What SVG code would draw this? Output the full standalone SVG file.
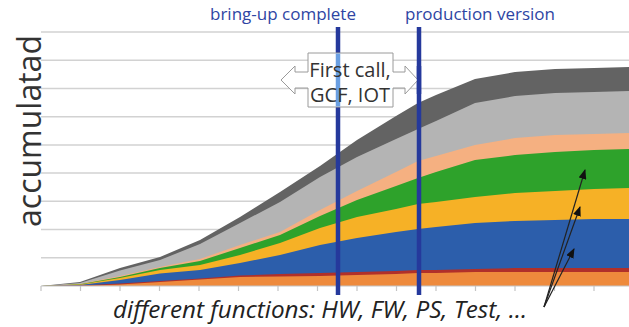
<svg xmlns="http://www.w3.org/2000/svg" width="629" height="327" viewBox="0 0 629 327">
  <style>
    .grid { stroke: #d2d2d2; stroke-width: 1.5; fill: none; }
    .tick { stroke: #c4c4c4; stroke-width: 1.2; fill: none; }
    .milestone { stroke: #25399c; stroke-width: 4.5; }
    .mlabel { font-family: "Open Sans", "Liberation Sans", sans-serif; font-size: 17px; fill: #2e45a3; text-anchor: middle; }
    .callout-text { font-family: "Open Sans", "Liberation Sans", sans-serif; font-size: 20px; fill: #333333; text-anchor: middle; }
    .pointer { stroke: #222222; stroke-width: 1.2; fill: none; marker-end: url(#head); }
  </style>
  <defs>
    <marker id="head" viewBox="0 0 10 8" refX="9" refY="4" markerWidth="10" markerHeight="8" markerUnits="userSpaceOnUse" orient="auto">
      <path d="M0,0 L10,4 L0,8 Z" fill="#111111"/>
    </marker>
  </defs>

  <rect width="629" height="327" fill="#ffffff"/>

  <!-- horizontal gridlines -->
  <g id="gridlines" class="grid">
    <line x1="41" y1="32" x2="629" y2="32"/>
    <line x1="41" y1="60.2" x2="629" y2="60.2"/>
    <line x1="41" y1="88.4" x2="629" y2="88.4"/>
    <line x1="41" y1="116.7" x2="629" y2="116.7"/>
    <line x1="41" y1="144.9" x2="629" y2="144.9"/>
    <line x1="41" y1="173.1" x2="629" y2="173.1"/>
    <line x1="41" y1="201.3" x2="629" y2="201.3"/>
    <line x1="41" y1="229.5" x2="629" y2="229.5"/>
    <line x1="41" y1="257.8" x2="629" y2="257.8"/>
  </g>

  <!-- stacked areas, drawn from the top layer downwards -->
  <g id="stacked-areas">
    <path id="layer-dark-gray" fill="#636363" d="M41,286 L80,282 L120,268 L160,257 L200,240 L240,217 L280,192 L320,166 L357,140 L396,116 L418,103 L436,95 L475,79 L515,72 L555,69 L594,68 L629,67 L629,286 Z"/>
    <path id="layer-light-gray" fill="#b4b4b4" d="M41,286 L80,283 L120,270.5 L160,260 L200,244 L240,223 L280,202 L320,177 L357,157 L396,139 L418,129 L436,121 L475,103 L515,96 L555,93 L594,92 L629,91 L629,286 Z"/>
    <path id="layer-peach" fill="#f5b081" d="M41,286 L80,284 L120,276 L160,267 L200,259 L240,245 L280,232 L320,210 L357,191 L396,172 L418,161 L436,156 L475,145 L515,138 L555,135 L594,134 L629,133 L629,286 Z"/>
    <path id="layer-green" fill="#2ea22b" d="M41,286 L80,284.3 L120,277 L160,268 L200,261 L240,248 L280,235 L320,216 L357,200 L396,186 L418,178 L436,172 L475,160 L515,155 L555,152 L594,150 L629,149 L629,286 Z"/>
    <path id="layer-gold" fill="#f6b126" d="M41,286 L80,284.6 L120,278 L160,270 L200,265 L240,255 L280,243 L320,228 L357,217 L396,209 L418,204 L436,202 L475,197 L515,193 L555,191 L594,189 L629,188 L629,286 Z"/>
    <path id="layer-blue" fill="#2c5eab" d="M41,286 L80,285 L120,280 L160,273.5 L200,270 L240,263 L280,255 L320,245 L357,238 L396,232 L418,229 L436,227 L475,223 L515,221 L555,220 L594,219 L629,219 L629,286 Z"/>
    <path id="layer-red" fill="#b0302a" d="M41,286 L80,285.5 L120,283.5 L160,281 L200,278.5 L240,275.5 L280,274 L320,273 L357,272 L396,271 L418,270 L436,270 L475,269 L515,268 L555,268 L594,268 L629,268 L629,286 Z"/>
    <path id="layer-orange" fill="#ee8a3c" d="M41,286 L80,286 L120,284.5 L160,282 L200,279.5 L240,277 L280,276.5 L320,276 L357,275 L396,274 L418,273 L436,273 L475,272 L515,272 L555,272 L594,272 L629,272 L629,286 Z"/>
  </g>

  <!-- category axis -->
  <g id="axis" class="tick">
    <line x1="41" y1="286" x2="629" y2="286"/>
    <path d="M41,286 v5 M80.5,286 v5 M120,286 v5 M159.5,286 v5 M199,286 v5 M238.5,286 v5 M278,286 v5 M317.5,286 v5 M357,286 v5 M396.5,286 v5 M436,286 v5 M475.5,286 v5 M515,286 v5 M554.5,286 v5 M594,286 v5"/>
  </g>

  <!-- axis title -->
  <text id="y-title" transform="translate(41,131) rotate(-90)" text-anchor="middle" font-family="'Open Sans', 'Liberation Sans', sans-serif" font-size="32" fill="#333333">accumulatad</text>

  <!-- milestones -->
  <g id="milestone-bringup">
    <line class="milestone" x1="338" y1="27" x2="338" y2="295"/>
    <text class="mlabel" x="283" y="20">bring-up complete</text>
  </g>
  <g id="milestone-production">
    <line class="milestone" x1="419" y1="27" x2="419" y2="295"/>
    <text class="mlabel" x="480" y="20">production version</text>
  </g>

  <!-- double-headed callout -->
  <g id="callout">
    <path d="M308,53 H393 V72 H405 V66 L418,80 L405,94 V88 H393 V107 H308 V88 H295 V94 L281,80 L295,66 V72 H308 Z" fill="#ffffff" stroke="#9a9a9a" stroke-width="1"/>
    <line x1="338" y1="53.5" x2="338" y2="106.5" stroke="#6a9fe2" stroke-width="4.5"/>
    <text class="callout-text" x="350" y="77">First call,</text>
    <text class="callout-text" x="350" y="102">GCF, IOT</text>
    <line class="milestone" x1="419" y1="66" x2="419" y2="94"/>
  </g>

  <!-- pointers from the caption to the function layers -->
  <g id="connectors">
    <line class="pointer" x1="544" y1="307" x2="585" y2="170"/>
    <line class="pointer" x1="544" y1="307" x2="580" y2="207"/>
    <line class="pointer" x1="544" y1="307" x2="574" y2="249"/>
  </g>

  <text id="caption" x="113" y="318" font-family="'Open Sans', 'Liberation Sans', sans-serif" font-size="23" font-style="italic" fill="#222222" textLength="414" lengthAdjust="spacingAndGlyphs">different functions: HW, FW, PS, Test, …</text>
</svg>
